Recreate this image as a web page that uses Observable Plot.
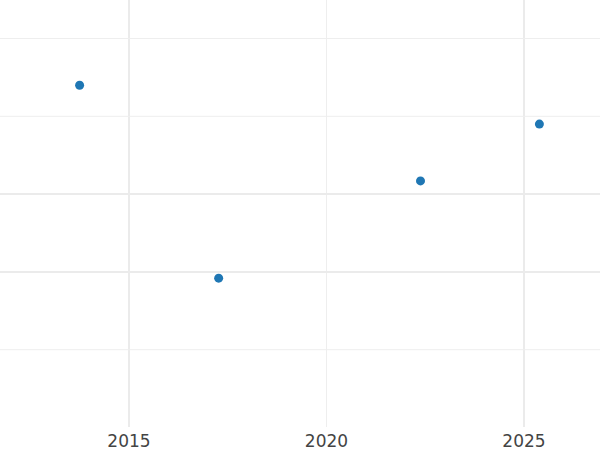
<!DOCTYPE html>
<html>
<head>
<meta charset="utf-8">
<script src="https://cdn.jsdelivr.net/npm/d3@7"></script>
<script src="https://cdn.jsdelivr.net/npm/@observablehq/plot@0.6"></script>
<style>
  html, body { margin: 0; padding: 0; background: #fff; }
  svg { display: block; }
</style>
</head>
<body>
<div id="chart"></div>
<script>
const years = [2013.75, 2017.27, 2022.38, 2025.39];
const values = [44.0, 19.2, 31.7, 39.0];
const xTicks = [2015, 2020, 2025];
const xMajorGrid = [2015, 2025];
const xMinorGrid = [2020];
const yMajorGrid = [20, 30];
const yMinorGrid = [10, 40, 50];

const data = years.map((x, i) => ({x, y: values[i]}));

const chart = Plot.plot({
  width: 600,
  height: 450,
  marginTop: 0,
  marginRight: 0,
  marginBottom: 23,
  marginLeft: 0,
  style: {fontFamily: "DejaVu Sans", fontSize: "17px", color: "#444", background: "#fff"},
  x: {domain: [2011.747, 2026.937], ticks: xTicks, tickFormat: d => String(d), tickSize: 0, tickPadding: 7, label: null},
  y: {domain: [0, 54.89], axis: null},
  marks: [
    Plot.ruleX(xMinorGrid, {stroke: "#eeeeee", strokeWidth: 1}),
    Plot.ruleX(xMajorGrid, {stroke: "#ebebeb", strokeWidth: 2}),
    Plot.ruleY(yMinorGrid, {stroke: "#eeeeee", strokeWidth: 1}),
    Plot.ruleY(yMajorGrid, {stroke: "#ebebeb", strokeWidth: 2}),
    Plot.dot(data, {x: "x", y: "y", r: 4.5, fill: "#1f77b4", stroke: null}),
    Plot.axisX({ticks: xTicks, tickFormat: d => String(d), tickSize: 0, tickPadding: 7, fontSize: 17, fill: "#444", label: null})
  ]
});
document.getElementById("chart").appendChild(chart);
</script>
</body>
</html>
